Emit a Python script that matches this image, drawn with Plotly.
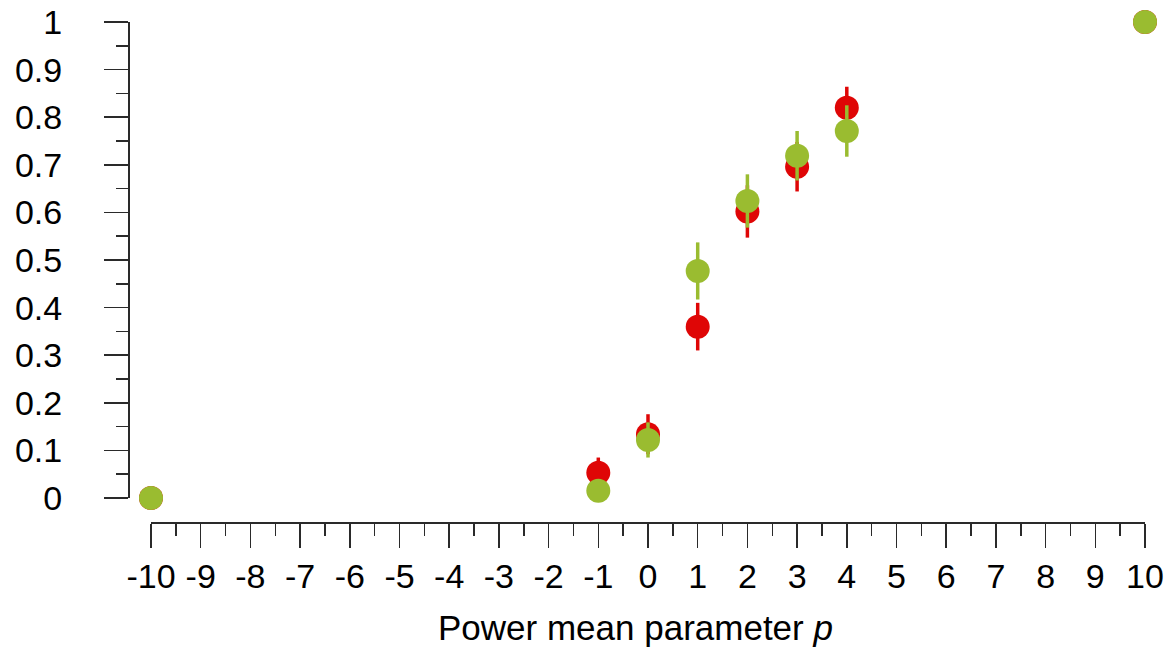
import plotly.graph_objects as go

p_values = [-10, -1, 0, 1, 2, 3, 4, 10]
red_values = [0.0, 0.053, 0.134, 0.360, 0.602, 0.696, 0.820, 1.0]
red_err = [0.0, 0.032, 0.042, 0.050, 0.055, 0.052, 0.044, 0.0]
green_values = [0.0, 0.015, 0.122, 0.477, 0.624, 0.719, 0.771, 1.0]
green_err = [0.0, 0.010, 0.037, 0.060, 0.056, 0.052, 0.054, 0.0]

x_ticks = list(range(-10, 11))
x_ticklabels = [str(v) for v in x_ticks]
y_ticks = [round(i * 0.1, 1) for i in range(11)]
y_ticklabels = ["0"] + [f"{v:.1f}" for v in y_ticks[1:-1]] + ["1"]
x_title = "Power mean parameter <i>p</i>"

RED = "#DF0606"
GREEN = "#9ABC30"
AXIS = "#2a2a2a"
FONT = "Liberation Sans, Arial, sans-serif"
FS = 34

fig = go.Figure()
for vals, errs, col in [(red_values, red_err, RED), (green_values, green_err, GREEN)]:
    fig.add_trace(go.Scatter(
        x=p_values, y=vals, mode="markers",
        marker=dict(color=col, size=24, line=dict(width=0)),
        error_y=dict(type="data", array=errs, visible=True, color=col, thickness=3.5, width=0),
        cliponaxis=False, showlegend=False, hoverinfo="skip",
    ))

# page body margin is removed (post_script), so figure fills the window
W, H = 1174, 654
L, R, T, B = 128, 29, 22, 132
pw = W - L - R
ph = H - T - B
x0_fig = 151   # position of x=-10
y0_fig = 498   # position of y=0
title_center_fig = 635

fig.update_layout(
    width=W, height=H,
    margin=dict(l=L, r=R, t=T, b=B, pad=0),
    paper_bgcolor="white", plot_bgcolor="white",
    font=dict(family=FONT, size=FS, color="black"),
    hovermode=False,
    xaxis=dict(
        domain=[(x0_fig - L) / pw, 1], anchor="free", position=0,
        automargin=False,
        range=[-10, 10], tickvals=x_ticks, ticktext=x_ticklabels,
        tickfont=dict(size=FS), ticklabeloverflow="allow",
        showgrid=False, zeroline=False,
        showline=True, linecolor=AXIS, linewidth=1.5,
        ticks="outside", ticklen=24, tickwidth=1.5, tickcolor=AXIS,
        minor=dict(dtick=0.5, ticks="outside", ticklen=12, tickwidth=1.5, tickcolor=AXIS, showgrid=False),
        ticklabelstandoff=0,
    ),
    yaxis=dict(
        domain=[(T + ph - y0_fig) / ph, 1], anchor="free", position=0,
        automargin=False,
        range=[0, 1], tickvals=y_ticks, ticktext=y_ticklabels,
        tickfont=dict(size=FS), ticklabeloverflow="allow",
        showgrid=False, zeroline=False,
        showline=True, linecolor=AXIS, linewidth=1.5,
        ticks="outside", ticklen=24, tickwidth=1.5, tickcolor=AXIS,
        minor=dict(dtick=0.05, ticks="outside", ticklen=12, tickwidth=1.5, tickcolor=AXIS, showgrid=False),
        ticklabelstandoff=35,
    ),
    annotations=[dict(
        text=x_title, xref="paper", yref="paper",
        x=(title_center_fig - L) / pw, y=0, xanchor="center", yanchor="top",
        yshift=-84, showarrow=False, font=dict(size=35, family=FONT, color="black"),
    )],
)

fig.write_html(
    "out.html",
    config={"displayModeBar": False, "staticPlot": True},
    post_script="document.body.style.margin='0';document.body.style.overflow='hidden';",
)
